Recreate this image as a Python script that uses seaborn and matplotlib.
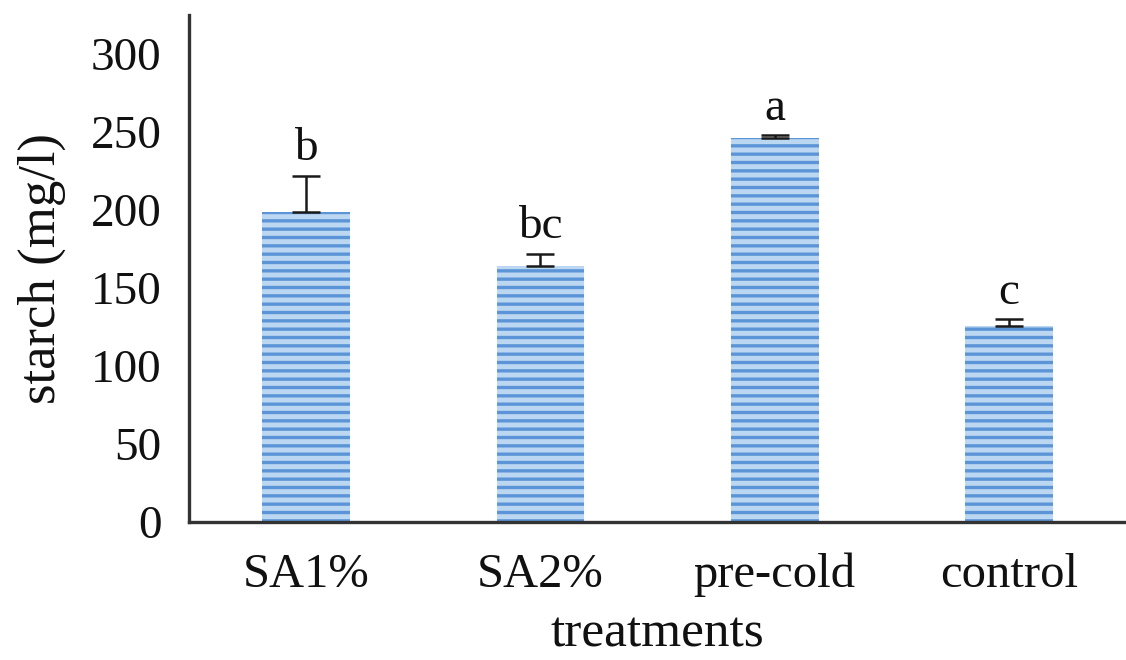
import matplotlib
matplotlib.use("Agg")
import matplotlib.pyplot as plt
import seaborn as sns
import pandas as pd

# Starch content per treatment
treatments = ["SA1%", "SA2%", "pre-cold", "control"]
starch = [199, 164, 246, 126]
starch_err = [23, 8, 2, 4]
letters = ["b", "bc", "a", "c"]

sns.set_theme(style="white")
plt.rcParams["font.family"] = ["Liberation Serif", "DejaVu Serif"]
plt.rcParams["hatch.linewidth"] = 2.4

DPI = 100
fig = plt.figure(figsize=(1126 / DPI, 660 / DPI), dpi=DPI)
ax = fig.add_axes([0.168, 0.209, 0.832, 0.768])

df = pd.DataFrame({"treatment": treatments, "starch": starch})
sns.barplot(data=df, x="treatment", y="starch", ax=ax, width=0.375,
            color="#bcd7f2", saturation=1, errorbar=None)

# horizontally striped bars
for p in ax.patches:
    p.set_facecolor("#bcd7f2")
    p.set_edgecolor("#5b95d7")
    p.set_linewidth(0)
    p.set_hatch("--")

xs = range(len(treatments))
ax.errorbar(xs, starch, yerr=[[0] * len(starch_err), starch_err], fmt="none",
            ecolor="#1a1a1a", elinewidth=1.8, capsize=10, capthick=1.8)

for x, v, e, t in zip(xs, starch, starch_err, letters):
    ax.annotate(t, (x, v + e), xytext=(0, 4), textcoords="offset points",
                ha="center", va="bottom", fontsize=34, color="#111111")

ax.set_ylim(0, 325)
ax.set_xlim(-0.5, 3.5)
ax.set_yticks([0, 50, 100, 150, 200, 250, 300])
ax.tick_params(axis="both", length=0, colors="#111111")
ax.tick_params(axis="y", pad=20, labelsize=34)
ax.tick_params(axis="x", pad=22, labelsize=35)

ax.set_xlabel("treatments", fontsize=37, color="#111111", labelpad=10)
ax.set_ylabel("starch (mg/l)", fontsize=38, color="#111111", labelpad=18)

for side in ["top", "right"]:
    ax.spines[side].set_visible(False)
for side in ["left", "bottom"]:
    ax.spines[side].set_color("#333333")
    ax.spines[side].set_linewidth(2.4)

fig.savefig("out.png", dpi=DPI, facecolor="white")
